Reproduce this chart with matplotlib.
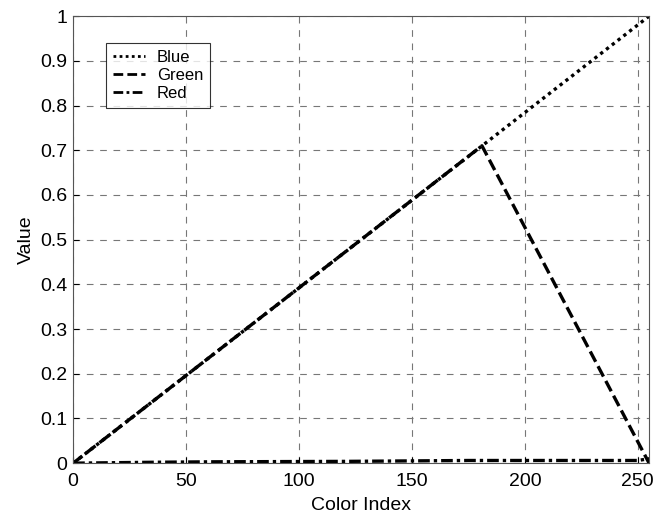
import numpy as np
import matplotlib
matplotlib.use("Agg")
import matplotlib.pyplot as plt

plt.rcParams['font.family'] = ['Liberation Sans', 'DejaVu Sans']

# colour index axis and the three colour-map channels
idx_blue = [0, 255]
val_blue = [0.0, 1.0]

idx_green = [0, 181, 255]
val_green = [0.0, 0.71, 0.0]

idx_red = [0, 35, 60, 120, 175, 250, 255]
val_red = [0.0, 0.002, 0.003, 0.004, 0.006, 0.006, 0.01]

fig = plt.figure(figsize=(6.53, 5.21), dpi=100)
ax = fig.add_axes([0.112, 0.111, 0.882, 0.858])

ax.plot(idx_blue, val_blue, color='black', linestyle=(0, (1, 1.2)), linewidth=2.4, label='Blue')
ax.plot(idx_green, val_green, color='black', linestyle=(0, (3.5, 1.5)), linewidth=2.4, label='Green')
ax.plot(idx_red, val_red, color='black', linestyle=(0, (3.5, 1.2, 1, 1.2)), linewidth=2.4, label='Red')

ax.set_xlim(0, 255)
ax.set_ylim(0, 1)
ax.set_xticks(np.arange(0, 251, 50))
ax.set_yticks(np.arange(0, 1.01, 0.1))
ax.set_yticklabels(['0'] + ['%.1f' % v for v in np.arange(0.1, 0.95, 0.1)] + ['1'])
ax.tick_params(direction='in', labelsize=14, length=4)
ax.tick_params(axis='x', pad=7)
ax.tick_params(axis='y', pad=4)
ax.grid(True, color='#777777', linestyle=(0, (6, 6)), linewidth=0.8)
for s in ax.spines.values():
    s.set_color('#555555')
    s.set_linewidth(0.8)

ax.set_xlabel('Color Index', fontsize=14, labelpad=5)
ax.set_ylabel('Value', fontsize=14, labelpad=4)

leg = ax.legend(loc='upper left', bbox_to_anchor=(0.057, 0.94), borderaxespad=0,
                fontsize=12, frameon=True, fancybox=False, edgecolor='black',
                handlelength=1.95, handletextpad=0.7, borderpad=0.4, labelspacing=0.2)
leg.get_frame().set_linewidth(0.8)
for line in leg.get_lines():
    line.set_linewidth(2)

fig.savefig('out.png', dpi=100)
